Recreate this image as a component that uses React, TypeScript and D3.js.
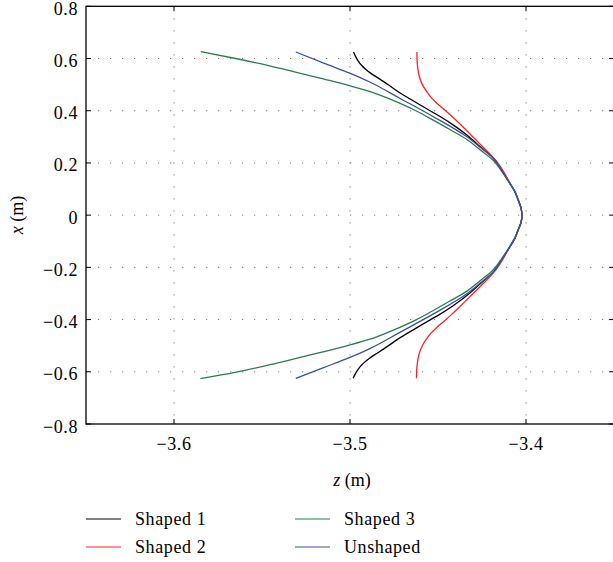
import React from 'react';
import * as d3 from 'd3';

// Curve points: [z (m), x (m)]
const shaped1: [number, number][] = [
  [-3.498, 0.625], [-3.497, 0.61], [-3.4955, 0.592], [-3.4936, 0.575], [-3.4913, 0.56],
  [-3.4885, 0.545], [-3.4828, 0.52], [-3.4771, 0.494], [-3.4715, 0.468], [-3.4658, 0.445],
  [-3.4601, 0.422], [-3.4545, 0.4], [-3.4488, 0.378], [-3.441, 0.344], [-3.4336, 0.307],
  [-3.426, 0.262], [-3.4185, 0.218], [-3.4136, 0.17], [-3.4091, 0.122], [-3.4063, 0.09],
  [-3.4044, 0.058], [-3.4029, 0.03], [-3.4023, 0],
  [-3.4029, -0.03], [-3.4045, -0.058], [-3.4064, -0.09], [-3.4092, -0.122], [-3.4138, -0.17],
  [-3.4187, -0.219], [-3.4262, -0.264], [-3.4338, -0.309], [-3.4412, -0.346], [-3.449, -0.38],
  [-3.4547, -0.402], [-3.4603, -0.424], [-3.466, -0.447], [-3.4717, -0.47], [-3.4773, -0.496],
  [-3.483, -0.522], [-3.4887, -0.547], [-3.4915, -0.562], [-3.4938, -0.577], [-3.4957, -0.594],
  [-3.4972, -0.611], [-3.4982, -0.625],
];

const shaped2: [number, number][] = [
  [-3.462, 0.625], [-3.4619, 0.594], [-3.4615, 0.564], [-3.4607, 0.533], [-3.459, 0.502],
  [-3.4567, 0.476], [-3.4539, 0.451], [-3.4505, 0.428], [-3.4465, 0.405], [-3.442, 0.378],
  [-3.4369, 0.345], [-3.4318, 0.311], [-3.4267, 0.276], [-3.4216, 0.242], [-3.4166, 0.205],
  [-3.413, 0.17], [-3.4091, 0.122], [-3.4063, 0.09], [-3.4044, 0.058], [-3.4029, 0.03],
  [-3.4023, 0],
  [-3.4029, -0.03], [-3.4045, -0.058], [-3.4064, -0.09], [-3.4093, -0.122], [-3.4132, -0.17],
  [-3.4168, -0.207], [-3.4218, -0.245], [-3.4269, -0.279], [-3.432, -0.313], [-3.4371, -0.347],
  [-3.4422, -0.38], [-3.4467, -0.407], [-3.4507, -0.43], [-3.4541, -0.453], [-3.4569, -0.478],
  [-3.4592, -0.504], [-3.4609, -0.535], [-3.4617, -0.566], [-3.4621, -0.596], [-3.4622, -0.625],
];

const shaped3: [number, number][] = [
  [-3.5848, 0.626], [-3.565, 0.6], [-3.5451, 0.571], [-3.5281, 0.543], [-3.5111, 0.515],
  [-3.4998, 0.495], [-3.4885, 0.473], [-3.48, 0.452], [-3.4715, 0.428], [-3.462, 0.398],
  [-3.4527, 0.364], [-3.443, 0.327], [-3.4336, 0.29], [-3.426, 0.25], [-3.4188, 0.211],
  [-3.414, 0.17], [-3.4093, 0.122], [-3.4064, 0.09], [-3.4045, 0.058], [-3.403, 0.03],
  [-3.4023, 0],
  [-3.403, -0.03], [-3.4046, -0.058], [-3.4066, -0.09], [-3.4095, -0.122], [-3.4142, -0.17],
  [-3.419, -0.212], [-3.4262, -0.252], [-3.4338, -0.292], [-3.4432, -0.329], [-3.4529, -0.366],
  [-3.4622, -0.4], [-3.4717, -0.43], [-3.4802, -0.454], [-3.4887, -0.475], [-3.5, -0.497],
  [-3.5113, -0.517], [-3.5283, -0.545], [-3.5453, -0.573], [-3.5652, -0.602], [-3.585, -0.626],
];

const unshaped: [number, number][] = [
  [-3.5308, 0.625], [-3.5149, 0.582], [-3.4998, 0.543], [-3.4885, 0.509], [-3.4715, 0.447],
  [-3.4526, 0.377], [-3.4336, 0.3], [-3.426, 0.26], [-3.4185, 0.218], [-3.4136, 0.17],
  [-3.4091, 0.122], [-3.4063, 0.09], [-3.4044, 0.058], [-3.4029, 0.03], [-3.4023, 0],
  [-3.4029, -0.03], [-3.4045, -0.058], [-3.4064, -0.09], [-3.4092, -0.122], [-3.4138, -0.17],
  [-3.4187, -0.219], [-3.4262, -0.261], [-3.4338, -0.302], [-3.4528, -0.379], [-3.4717, -0.449],
  [-3.4887, -0.511], [-3.5, -0.545], [-3.515, -0.584], [-3.5308, -0.625],
];

const seriesNames = ['Shaped 1', 'Shaped 2', 'Shaped 3', 'Unshaped'];
const seriesColors = ['#000000', '#ff1f1f', '#2a7d4c', '#3b4fa6'];
const seriesData = [shaped1, shaped2, shaped3, unshaped];

const xTicks = [-3.6, -3.5, -3.4];
const yTicks = [-0.8, -0.6, -0.4, -0.2, 0, 0.2, 0.4, 0.6, 0.8];

const fmt = (v: number) => (v < 0 ? '\u2212' + Math.abs(v) : String(v));

const App = () => {
  const width = 613;
  const height = 562;
  const left = 86, right = 614, top = 6.3, bottom = 424;

  const x = d3.scaleLinear().domain([-3.65, -3.35]).range([left, right]);
  const y = d3.scaleLinear().domain([-0.8, 0.8]).range([bottom, top]);

  const line = d3.line<[number, number]>()
    .x((d) => x(d[0]))
    .y((d) => y(d[1]))
    .curve(d3.curveMonotoneY);

  const font = 'Liberation Serif, DejaVu Serif, serif';
  const tickLen = 5;

  return (
    <svg width={width} height={height} style={{ position: 'absolute', left: 0, top: 0 }}
      fontFamily={font} fontSize={18}>
      <rect x={0} y={0} width={width} height={height} fill="#fff" />
      {/* dotted grid */}
      {xTicks.map((t) => (
        <line key={'gx' + t} x1={x(t)} x2={x(t)} y1={top} y2={bottom}
          stroke="#777" strokeWidth={1} strokeDasharray="1.2,10.8" />
      ))}
      {yTicks.slice(1, -1).map((t) => (
        <line key={'gy' + t} x1={left} x2={right} y1={y(t)} y2={y(t)}
          stroke="#777" strokeWidth={1} strokeDasharray="1.2,10.8" />
      ))}
      {/* curves */}
      {seriesData.map((d, i) => (
        <path key={seriesNames[i]} d={line(d) ?? ''} fill="none"
          stroke={seriesColors[i]} strokeWidth={1.3} />
      ))}
      {/* frame */}
      <rect x={left} y={top} width={right - left} height={bottom - top}
        fill="none" stroke="#000" strokeWidth={1.3} />
      {/* ticks */}
      {xTicks.map((t) => (
        <g key={'tx' + t}>
          <line x1={x(t)} x2={x(t)} y1={bottom} y2={bottom - tickLen} stroke="#000" strokeWidth={1} />
          <line x1={x(t)} x2={x(t)} y1={top} y2={top + tickLen} stroke="#000" strokeWidth={1} />
          <text x={x(t)} y={450} textAnchor="middle" letterSpacing={0.6}>{fmt(t)}</text>
        </g>
      ))}
      {yTicks.map((t) => (
        <g key={'ty' + t}>
          <line x1={left} x2={left + tickLen} y1={y(t)} y2={y(t)} stroke="#000" strokeWidth={1} />
          <line x1={right} x2={right - tickLen} y1={y(t)} y2={y(t)} stroke="#000" strokeWidth={1} />
          <text x={78} y={y(t) + 8.5} textAnchor="end" letterSpacing={0.6}>{fmt(t)}</text>
        </g>
      ))}
      {/* axis labels */}
      <text x={352} y={486} textAnchor="middle">
        <tspan fontStyle="italic">z</tspan> (m)
      </text>
      <text transform="translate(23,215) rotate(-90)" textAnchor="middle">
        <tspan fontStyle="italic">x</tspan> (m)
      </text>
      {/* legend */}
      {seriesNames.map((name, i) => {
        const col = Math.floor(i / 2);
        const row = i % 2;
        const lx = col === 0 ? 86 : 295;
        const ly = row === 0 ? 519 : 547;
        return (
          <g key={'lg' + name}>
            <line x1={lx} x2={lx + 35} y1={ly} y2={ly} stroke={seriesColors[i]} strokeWidth={1.2} />
            <text x={lx + 49} y={ly + 6} letterSpacing={0.6}>{name}</text>
          </g>
        );
      })}
    </svg>
  );
};

export default App;
